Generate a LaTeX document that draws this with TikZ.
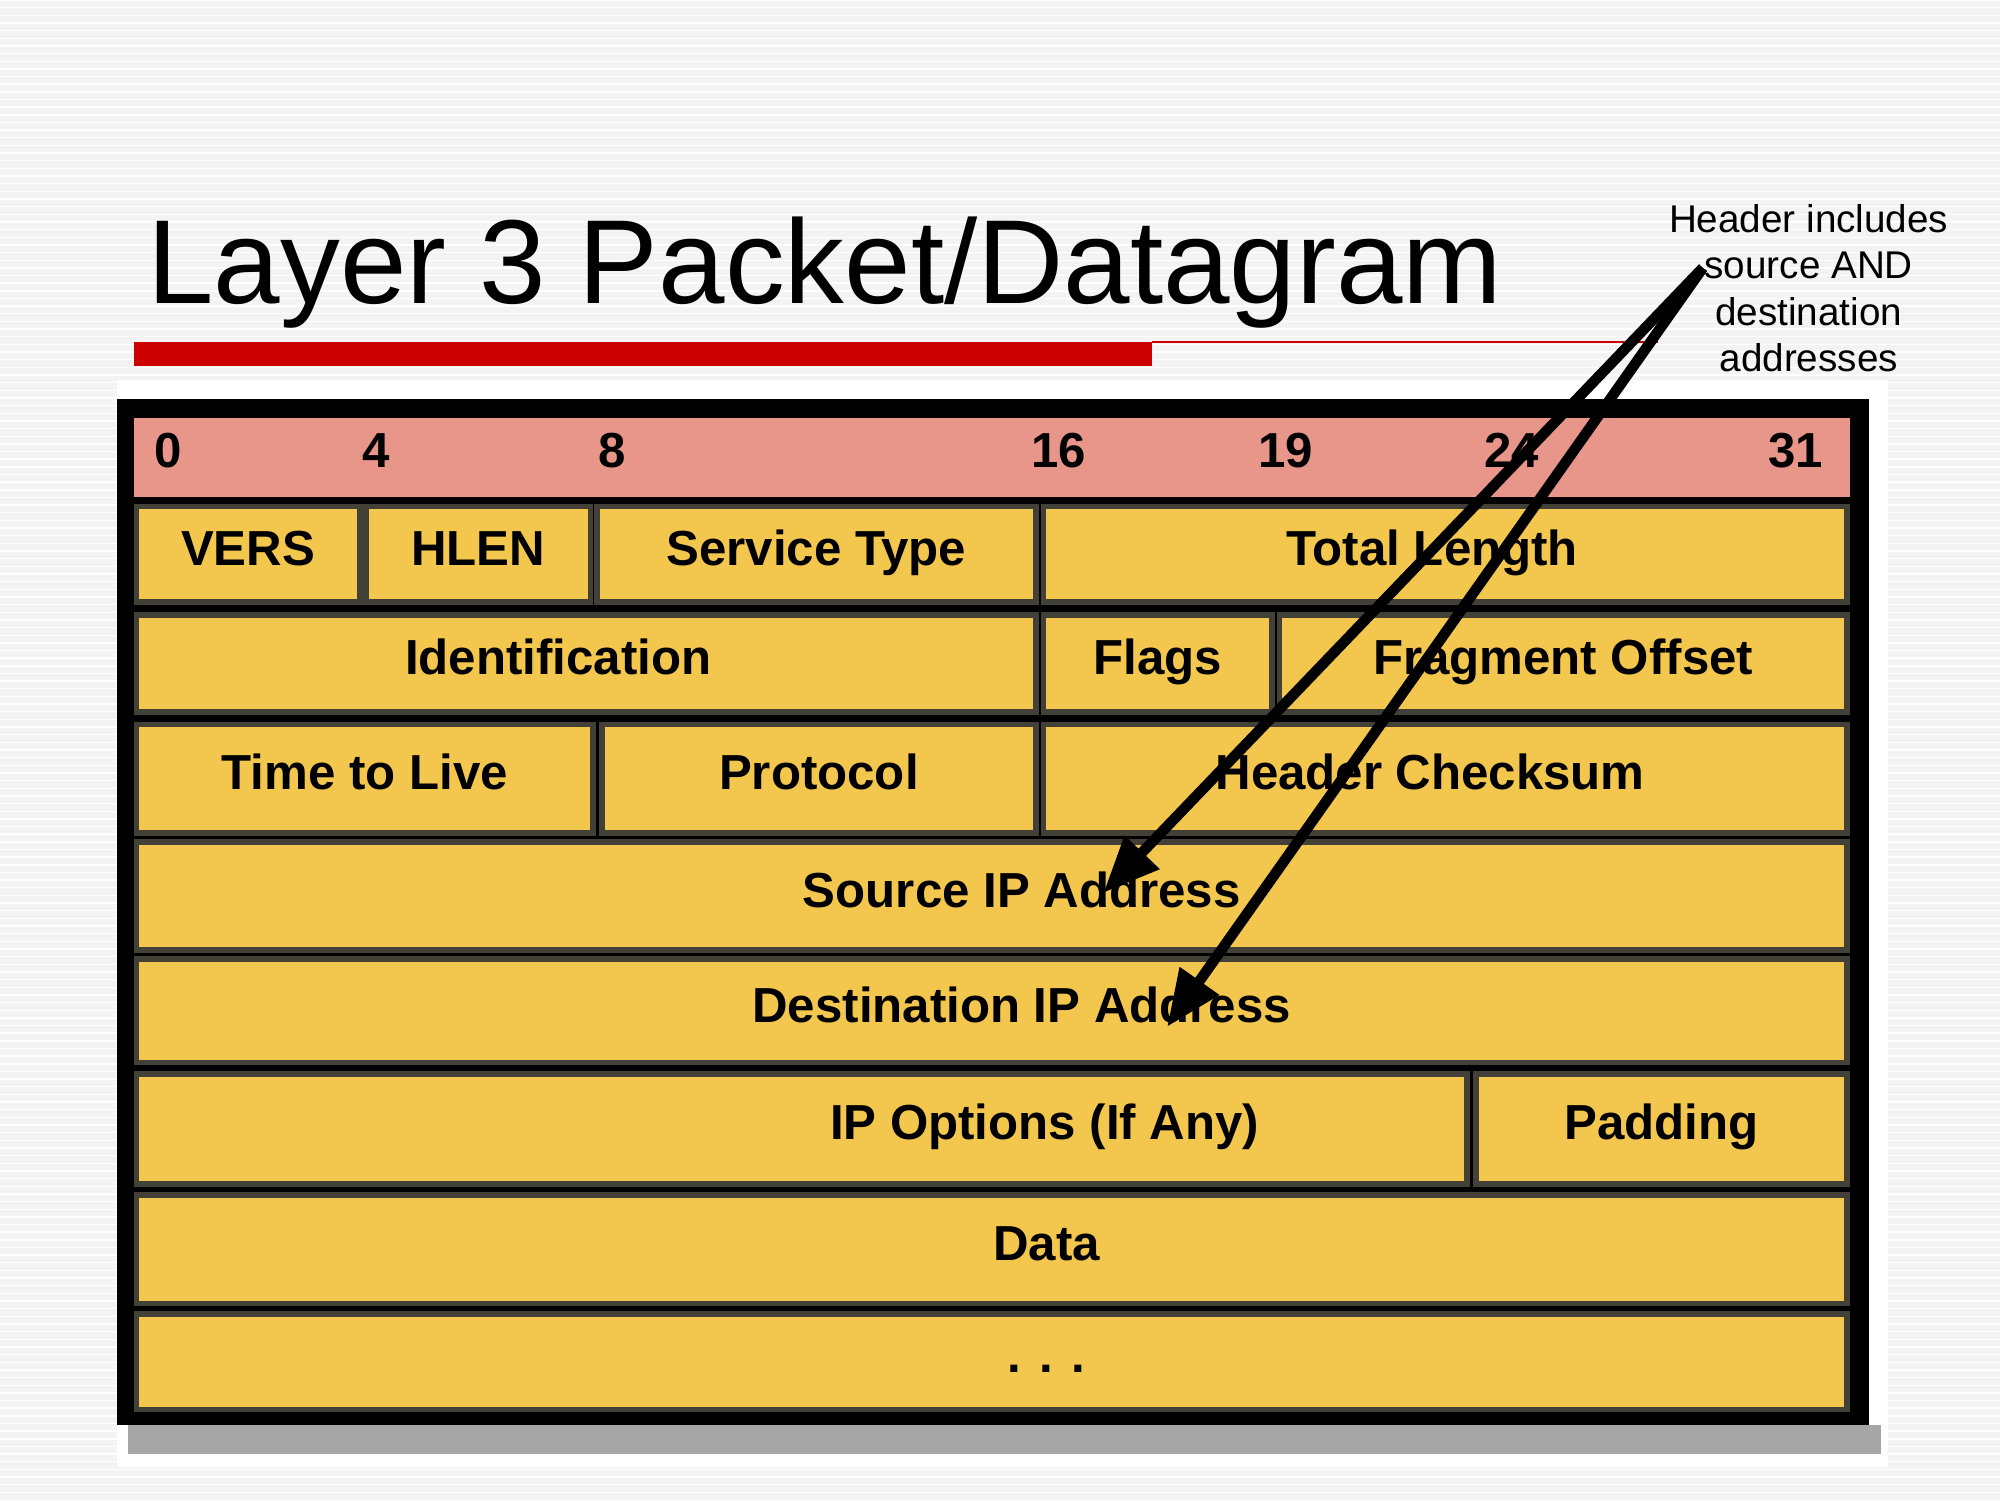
\documentclass[tikz,border=0pt]{standalone}
\usepackage{fontspec}
\setmainfont{Liberation Sans}
\usetikzlibrary{fit,arrows.meta}
\definecolor{cyel}{HTML}{F3C64E}
\definecolor{cpink}{HTML}{E8958A}
\definecolor{cred}{HTML}{CC0000}
\definecolor{cbg}{HTML}{F3F3F3}
\tikzset{
 cell/.style={draw=black!75!yellow!60!black, line width=1.6pt, fill=cyel, inner sep=0pt},
 ctext/.style={font=\fontsize{14}{16}\selectfont\bfseries, inner sep=0pt, text height=1.6ex, text depth=0.4ex},
 arr/.style={line width=3pt, -{Triangle[length=16pt,width=13pt]}}
}
\newcommand{\cellbox}[7][0]{\node[cell, fit={(#3,#4) (#5,#6)}] (#2) {};
  \node[ctext] (#2t) at ([xshift=#1]#2.center) {#7};}
\begin{document}
\begin{tikzpicture}[x=0.012755cm,y=-0.012755cm]
\useasboundingbox (0,0) rectangle (1568,1176);
\fill[cbg] (0,0) rectangle (1568,1176);
\foreach \i in {0,6,...,1170} \draw[white,line width=0.4pt] (0,\i) -- (1568,\i);
\node[anchor=base west, inner sep=0, font=\fontsize{34}{36}\selectfont] (title) at (115,238) {Layer 3 Packet/Datagram};
\fill[cred] (105,268) rectangle (903,287);
\draw[cred, line width=0.6pt] (903,268) -- (1300,268);
\node[align=center, font=\fontsize{11}{13.2}\selectfont] (note) at (1418,226) {Header includes\\source AND\\destination\\addresses};
% frame
\fill[white] (92,298) rectangle (1480,1150);
\fill[black!35] (100,1117) rectangle (1475,1140);
\fill[black] (92,313) rectangle (1465,1117);
\fill[cpink] (105,328) rectangle (1450,390);
\foreach \n/\x in {0/132,4/295,8/480,16/830,19/1008,24/1185,31/1408}
  \node[ctext] (b\n) at (\x,358) {\n};
\cellbox{vers}{107}{397}{282}{472}{VERS}
\cellbox{hlen}{287}{397}{463}{472}{HLEN}
\cellbox{tos}{468}{397}{812}{472}{Service Type}
\cellbox[-0.13cm]{tlen}{818}{397}{1448}{472}{Total Length}
\cellbox[-0.28cm]{id}{107}{482}{812}{558}{Identification}
\cellbox{flags}{818}{482}{997}{558}{Flags}
\cellbox{frag}{1003}{482}{1448}{558}{Fragment Offset}
\cellbox{ttl}{107}{568}{465}{653}{Time to Live}
\cellbox{proto}{472}{568}{812}{653}{Protocol}
\cellbox[-0.15cm]{chk}{818}{568}{1448}{653}{Header Checksum}
\cellbox[0.3cm]{src}{107}{660}{1448}{745}{Source IP Address}
\cellbox[0.3cm]{dst}{107}{752}{1448}{833}{Destination IP Address}
\cellbox[2.43cm]{opt}{107}{842}{1150}{928}{IP Options (If Any)}
\cellbox{pad}{1157}{842}{1448}{928}{Padding}
\cellbox[0.55cm]{data}{107}{937}{1448}{1022}{Data}
\cellbox[0.55cm]{more}{107}{1030}{1448}{1105}{. . .}
\coordinate (o) at (1335,210);
\coordinate (e1) at (865,700);
\coordinate (e2) at (915,805);
\draw[arr] (o) -- (e1);
\draw[arr] (o) -- (e2);
\end{tikzpicture}
\end{document}
